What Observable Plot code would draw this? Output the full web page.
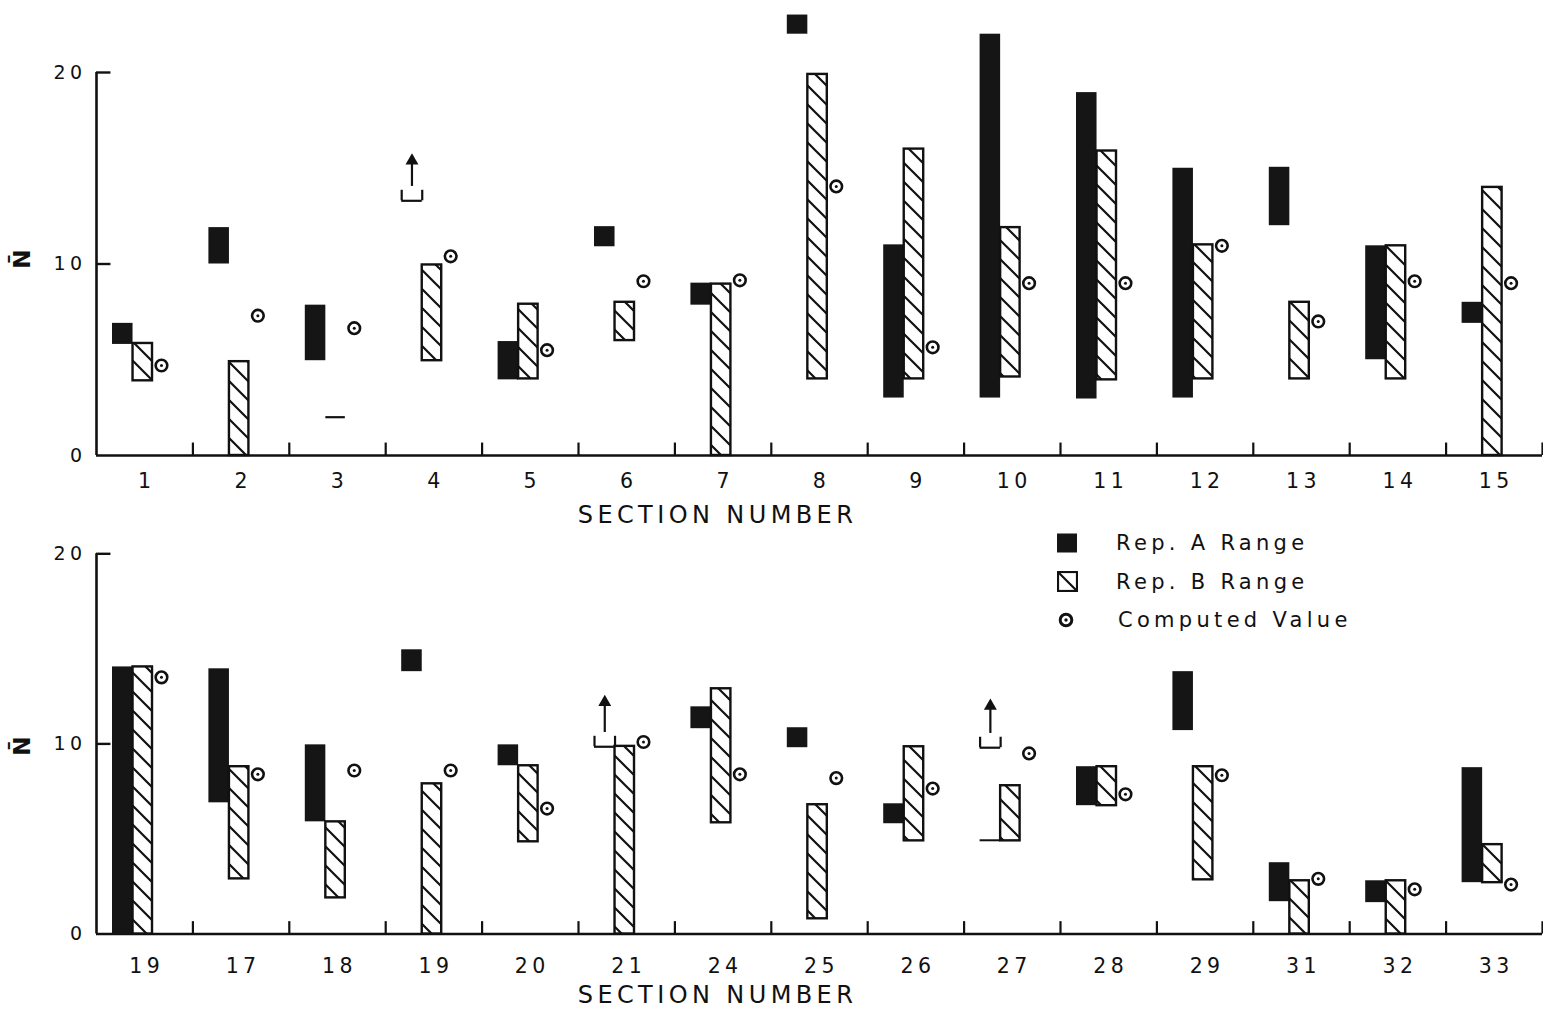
<!DOCTYPE html>
<html>
<head>
<meta charset="utf-8">
<script src="https://cdn.jsdelivr.net/npm/d3@7"></script>
<script src="https://cdn.jsdelivr.net/npm/@observablehq/plot@0.6"></script>
<style>
  html, body { margin: 0; padding: 0; background: #fff; }
  #wrap { position: relative; width: 1543px; height: 1026px; overflow: hidden; font-family: "DejaVu Sans", sans-serif; color: #111; }
  #wrap svg { display: block; }
  #wrap svg text { letter-spacing: 4.4px; }
  #legend { position: absolute; left: 1057px; top: 524px; }
  #legend .row { height: 38.5px; display: flex; align-items: center; }
  #legend .lab { font-size: 21px; letter-spacing: 4.3px; }
</style>
</head>
<body>
<svg width="0" height="0" style="position:absolute">
  <defs>
    <pattern id="hatch" patternUnits="userSpaceOnUse" width="19" height="19">
      <rect width="19" height="19" fill="#fff"/>
      <path d="M-2,-2L21,21M-2,17L2,21M17,-2L21,2" stroke="#111" stroke-width="2.2"/>
    </pattern>
  </defs>
</svg>
<div id="wrap">
  <div id="top"></div>
  <div id="bottom"></div>
  <div id="legend">
    <div class="row"><svg width="20" height="20" style="margin-right:39px"><rect x="0" y="0.5" width="20" height="19" fill="#151515"/></svg><span class="lab">Rep. A Range</span></div>
    <div class="row"><svg width="21" height="21" style="margin-right:38px"><rect x="1" y="1" width="19" height="19" fill="url(#hatch)" stroke="#111" stroke-width="2.2"/></svg><span class="lab">Rep. B Range</span></div>
    <div class="row"><svg width="18" height="18" style="margin-right:43px"><circle cx="9" cy="9" r="5.8" fill="#fff" stroke="#111" stroke-width="3"/><circle cx="9" cy="9" r="1.7" fill="#111"/></svg><span class="lab">Computed Value</span></div>
  </div>
</div>
<script>
// ---------- DATA ----------
const topSections = ["1","2","3","4","5","6","7","8","9","10","11","12","13","14","15"];
const topALow     = [5.8, 10, 4.95, null, 3.95, 10.9, 7.85, 22, 3, 3, 2.95, 3, 12, 5, 6.9];
const topAHigh    = [6.9, 11.9, 7.85, null, 5.95, 11.95, 9, 23, 11, 22, 18.95, 15, 15.05, 10.95, 8];
const topBLow     = [3.9, 0, 2, 4.95, 4, 6, 0, 4, 4, 4.1, 3.95, 4, 4, 4, 0];
const topBHigh    = [5.85, 4.9, 2, 9.95, 7.9, 8, 8.95, 19.9, 16, 11.9, 15.9, 11, 8, 10.95, 14];
const topComputed = [4.7, 7.3, 6.65, 10.4, 5.5, 9.1, 9.15, 14.05, 5.65, 9, 9, 10.95, 7, 9.1, 9];
const topLowerBoundSection = [4];
const topLowerBound = [13.3];
const topArrowTip = [15.6];

const bottomSections = ["19","17","18","19","20","21","24","25","26","27","28","29","31","32","33"];
const bottomALow     = [0, 6.9, 5.9, 13.8, 8.85, null, 10.8, 9.8, 5.8, 4.93, 6.75, 10.7, 1.7, 1.65, 2.7];
const bottomAHigh    = [14.05, 13.95, 9.95, 14.95, 9.95, null, 11.95, 10.85, 6.85, 4.93, 8.8, 13.8, 3.75, 2.8, 8.75];
const bottomBLow     = [0, 2.9, 1.9, 0, 4.85, 0, 5.85, 0.8, 4.9, 4.9, 6.75, 2.85, 0, 0, 2.7];
const bottomBHigh    = [14.05, 8.8, 5.9, 7.9, 8.85, 9.87, 12.9, 6.8, 9.85, 7.8, 8.8, 8.8, 2.8, 2.8, 4.7];
const bottomComputed = [13.5, 8.4, 8.6, 8.6, 6.6, 10.1, 8.4, 8.2, 7.65, 9.5, 7.35, 8.35, 2.9, 2.35, 2.6];
const bottomLowerBoundSection = [6, 10];
const bottomLowerBound = [9.85, 9.8];
const bottomArrowTip = [12.4, 12.2];

const yTicks = [0, 10, 20];
const yLabel = "N\u0304";
const xLabel = "SECTION NUMBER";

// ---------- DRAWING ----------
const INK = "#111";
const A0 = 0.166, A1 = 0.379, B1 = 0.581, CX = 0.674;

function panel(o) {
  const n = o.labels.length;
  const rows = o.labels.map((lab, i) => ({i, lab, aLo: o.aLo[i], aHi: o.aHi[i], bLo: o.bLo[i], bHi: o.bHi[i], c: o.comp[i]}));
  const A = rows.filter(d => d.aLo != null && d.aHi > d.aLo);
  const Adash = rows.filter(d => d.aLo != null && d.aHi === d.aLo);
  const B = rows.filter(d => d.bLo != null && d.bHi > d.bLo);
  const Bdash = rows.filter(d => d.bLo != null && d.bHi === d.bLo);
  const br = o.brSec.map((s, k) => ({i: s - 1, lo: o.brLo[k], tip: o.brTip[k]}));
  const ac = d => d.i + (A0 + A1) / 2;
  return Plot.plot({
    width: 1543, height: o.height,
    marginLeft: 96, marginRight: 1, marginTop: o.marginTop, marginBottom: o.marginBottom,
    x: {domain: [0, n], axis: null},
    y: {domain: [0, 20], axis: null},
    style: {fontFamily: "DejaVu Sans, sans-serif", color: INK, background: "#fff", overflow: "visible"},
    marks: [
      // axes
      Plot.ruleX([0], {y1: 0, y2: 20, stroke: INK, strokeWidth: 2.6}),
      Plot.ruleY([0], {x1: 0, x2: n, stroke: INK, strokeWidth: 2.6}),
      Plot.ruleY(yTicks.filter(t => t > 0), {x1: 0, x2: 0.15, stroke: INK, strokeWidth: 2.4}),
      Plot.ruleX(d3.range(1, n + 1), {y1: 0, y2: 0.65, stroke: INK, strokeWidth: 2.2}),
      Plot.text(yTicks, {x: 0, y: d => d, text: d => String(d), textAnchor: "end", dx: -10, fontSize: 19, fill: INK}),
      Plot.text(rows, {x: d => d.i + 0.5, y: 0, text: "lab", dy: o.tickPad, dx: 2, fontSize: 20.5, fill: INK}),
      Plot.text([yLabel], {x: 0, y: 10, dx: -74, dy: o.labelDy, rotate: -90, fontSize: 23, fontWeight: "bold", fill: INK}),
      Plot.text([xLabel], {frameAnchor: "bottom", dx: -102, dy: o.titleDy, fontSize: 24, fill: INK}),
      // Rep A range
      Plot.rect(A, {x1: d => d.i + A0, x2: d => d.i + A1, y1: "aLo", y2: "aHi", fill: "#151515"}),
      Plot.ruleY(Adash, {y: "aLo", x1: d => d.i + A0, x2: d => d.i + A1, stroke: INK, strokeWidth: 2}),
      // Rep B range
      Plot.rect(B, {x1: d => d.i + A1, x2: d => d.i + B1, y1: "bLo", y2: "bHi", fill: "url(#hatch)", stroke: INK, strokeWidth: 2.4}),
      Plot.ruleY(Bdash, {y: "bLo", x1: d => d.i + A1, x2: d => d.i + B1, stroke: INK, strokeWidth: 2.2}),
      // lower-bound brackets with arrows (Rep A)
      Plot.ruleY(br, {y: "lo", x1: d => d.i + A0, x2: d => d.i + A1, stroke: INK, strokeWidth: 2.2}),
      Plot.ruleX(br, {x: d => d.i + A0, y1: "lo", y2: d => d.lo + 0.55, stroke: INK, strokeWidth: 2.2}),
      Plot.ruleX(br, {x: d => d.i + A1, y1: "lo", y2: d => d.lo + 0.55, stroke: INK, strokeWidth: 2.2}),
      Plot.ruleX(br, {x: ac, y1: d => d.lo + 0.75, y2: "tip", stroke: INK, strokeWidth: 2.2}),
      Plot.dot(br, {x: ac, y: "tip", symbol: "triangle", r: 4.8, fill: INK, dy: 4}),
      // computed value
      Plot.dot(rows, {x: d => d.i + CX, y: "c", r: 5.8, fill: "#fff", stroke: INK, strokeWidth: 2.6}),
      Plot.dot(rows, {x: d => d.i + CX, y: "c", r: 1.5, fill: INK})
    ]
  });
}

document.getElementById("top").append(panel({
  labels: topSections, aLo: topALow, aHi: topAHigh, bLo: topBLow, bHi: topBHigh, comp: topComputed,
  brSec: topLowerBoundSection, brLo: topLowerBound, brTip: topArrowTip,
  height: 540, marginTop: 72, marginBottom: 85, tickPad: 26, titleDy: 67, labelDy: -7
}));
document.getElementById("bottom").append(panel({
  labels: bottomSections, aLo: bottomALow, aHi: bottomAHigh, bLo: bottomBLow, bHi: bottomBHigh, comp: bottomComputed,
  brSec: bottomLowerBoundSection, brLo: bottomLowerBound, brTip: bottomArrowTip,
  height: 486, marginTop: 13.3, marginBottom: 92.5, tickPad: 32, titleDy: 69, labelDy: 0
}));
</script>
</body>
</html>
